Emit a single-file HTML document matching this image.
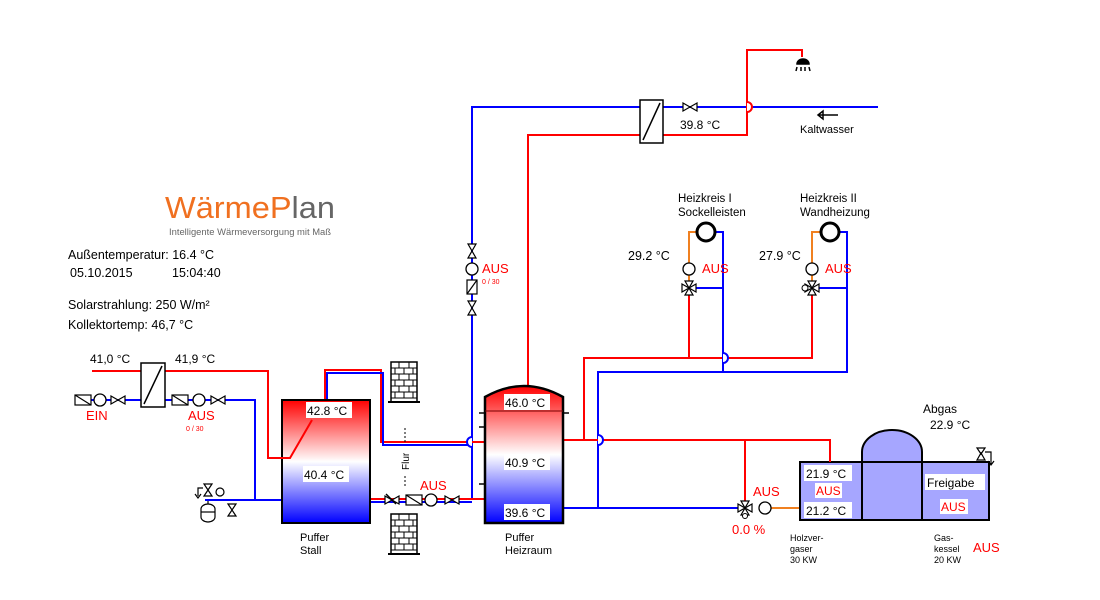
<!DOCTYPE html>
<html><head><meta charset="utf-8"><style>
html,body{margin:0;padding:0;background:#fff;width:1100px;height:600px;overflow:hidden}
svg{display:block}
text{font-family:"Liberation Sans",sans-serif}
</style></head><body>
<svg width="1100" height="600" viewBox="0 0 1100 600" xmlns="http://www.w3.org/2000/svg">
<defs>
<linearGradient id="tg" x1="0" y1="0" x2="0" y2="1">
<stop offset="0" stop-color="#f00"/><stop offset="0.5" stop-color="#fff"/><stop offset="1" stop-color="#00f"/>
</linearGradient>
<linearGradient id="tg2" x1="0" y1="0" x2="0" y2="1">
<stop offset="0" stop-color="#f00"/><stop offset="0.5" stop-color="#fff"/><stop offset="1" stop-color="#00f"/>
</linearGradient>
<g id="vh"><path d="M-7,-4 L7,4 L7,-4 L-7,4 Z" fill="#fff" stroke="#000" stroke-width="1.2"/></g>
<g id="vv"><path d="M-4,-7 L4,7 L-4,7 L4,-7 Z" fill="#fff" stroke="#000" stroke-width="1.2"/></g>
<g id="pump"><circle r="6" fill="#fff" stroke="#000" stroke-width="1.3"/></g>
<g id="chk"><rect x="-8" y="-5" width="16" height="10" fill="#fff" stroke="#000" stroke-width="1.2"/><line x1="-8" y1="-5" x2="8" y2="5" stroke="#000" stroke-width="1.2"/></g>
<g id="brick">
<rect x="0" y="0" width="26" height="40" fill="#fff" stroke="#000" stroke-width="1.5"/>
<path d="M0,6H26M0,12H26M0,18H26M0,24H26M0,30H26M0,36H26M8,0V6M18,0V6M4,6V12M13,6V12M22,6V12M8,12V18M18,12V18M4,18V24M13,18V24M22,18V24M8,24V30M18,24V30M4,30V36M13,30V36M22,30V36" stroke="#000" stroke-width="1" fill="none"/>
<line x1="-3" y1="40" x2="29" y2="40" stroke="#000" stroke-width="2"/>
</g>
</defs>

<!-- logo and info -->
<text x="165" y="218" font-size="31" fill="#f07020" textLength="170" lengthAdjust="spacingAndGlyphs" font-family="'DejaVu Sans',sans-serif">Wärme<tspan fill="#f07020">P</tspan><tspan fill="#666">lan</tspan></text>
<text x="169" y="235" font-size="9" fill="#666" textLength="162" lengthAdjust="spacingAndGlyphs" font-family="'DejaVu Sans',sans-serif">Intelligente Wärmeversorgung mit Maß</text>
<text x="68" y="259" font-size="12.5">Außentemperatur: 16.4 °C</text>
<text x="70" y="277" font-size="12.5">05.10.2015</text>
<text x="172" y="277" font-size="12.5">15:04:40</text>
<text x="68" y="309" font-size="12.5">Solarstrahlung: 250 W/m²</text>
<text x="68" y="329" font-size="12.5">Kollektortemp: 46,7 °C</text>

<g fill="none" stroke-width="2">
<path d="M472,500 V107 H878" stroke="#00f"/>
<path d="M528,385 V135 H640 M663,135 H747 V50 H802 V57" stroke="#f00"/>
<path d="M584,440 V358 H812 V290" stroke="#f00"/>
<path d="M689,358 V290" stroke="#f00"/>
<path d="M598,508 V372 H847 V232 H839" stroke="#00f"/>
<path d="M723,372 V232 H715" stroke="#00f"/>
<path d="M695,288 H723 M818,288 H847" stroke="#00f"/>
<path d="M689,282 V232 H697 M812,282 V232 H821" stroke="#f08020"/>
<path d="M563,440 H830 V462 M745,440 V505" stroke="#f00"/>
<path d="M563,508 H745" stroke="#00f"/>
<path d="M771,508 H800" stroke="#f08020"/>
<path d="M92,371 H141 M165,371 H268 V458 H290 L312,420" stroke="#f00"/>
<path d="M75,400 H141 M165,400 H255 V500 M205,500 H282" stroke="#00f"/>
<path d="M325,400 V370 H381 V442 H485" stroke="#f00"/>
<path d="M327,400 V373 H383 V445 H472" stroke="#00f"/>
<path d="M370,499 H485" stroke="#f00"/>
<path d="M370,502 H472" stroke="#00f"/>
</g>
<path d="M472,437 a5,5 0 0 0 0,10" fill="#fff" stroke="#00f" stroke-width="2"/>
<path d="M747,102 a5,5 0 0 1 0,10" fill="#fff" stroke="#f00" stroke-width="2"/>
<path d="M723,353 a5,5 0 0 1 0,10" fill="#fff" stroke="#00f" stroke-width="2"/>
<path d="M598,435 a5,5 0 0 1 0,10" fill="#fff" stroke="#00f" stroke-width="2"/>

<rect x="640" y="100" width="23" height="43" fill="#fff" stroke="#000" stroke-width="1.5"/>
<line x1="643" y1="140" x2="660" y2="103" stroke="#000" stroke-width="1.5"/>
<rect x="141" y="363" width="24" height="44" fill="#fff" stroke="#000" stroke-width="1.5"/>
<line x1="144" y1="404" x2="162" y2="366" stroke="#000" stroke-width="1.5"/>

<use href="#vh" x="690" y="107"/>
<text x="680" y="129" font-size="12">39.8 °C</text>
<path d="M797,64 a6,5 0 0 1 12,0 z M797,67 l-1,4 M801,67 l0,4 M805,67 l0,4 M809,67 l1,4" stroke="#000" stroke-width="1.5" fill="#000"/>
<path d="M818,115 H838 M818,115 l5,-4 v8 z" stroke="#000" stroke-width="1.5" fill="#fff"/>
<text x="800" y="133" font-size="11">Kaltwasser</text>

<text x="678" y="202" font-size="11.5">Heizkreis I</text>
<text x="678" y="216" font-size="11.5">Sockelleisten</text>
<text x="800" y="202" font-size="11.5">Heizkreis II</text>
<text x="800" y="216" font-size="11.5">Wandheizung</text>
<circle cx="706" cy="232" r="9" fill="#fff" stroke="#000" stroke-width="3"/>
<circle cx="830" cy="232" r="9" fill="#fff" stroke="#000" stroke-width="3"/>
<text x="628" y="260" font-size="12.5">29.2 °C</text>
<text x="759" y="260" font-size="12.5">27.9 °C</text>
<use href="#pump" x="689" y="269"/>
<use href="#pump" x="812" y="269"/>
<text x="702" y="273" font-size="13" fill="#f00">AUS</text>
<text x="825" y="273" font-size="13" fill="#f00">AUS</text>
<use href="#vv" x="689" y="288"/><use href="#vh" x="689" y="288"/>
<use href="#vv" x="812" y="288"/><use href="#vh" x="812" y="288"/>
<circle cx="805" cy="288" r="3" fill="#fff" stroke="#000"/>

<use href="#vv" x="472" y="251"/>
<use href="#pump" x="472" y="269"/>
<text x="482" y="273" font-size="13" fill="#f00">AUS</text>
<text x="482" y="284" font-size="7" fill="#f00">0 / 30</text>
<rect x="467" y="280" width="10" height="14" fill="#fff" stroke="#000" stroke-width="1.2"/>
<line x1="467" y1="294" x2="477" y2="280" stroke="#000" stroke-width="1.2"/>
<use href="#vv" x="472" y="308"/>

<use href="#chk" x="83" y="400"/><use href="#pump" x="100" y="400"/><use href="#vh" x="118" y="400"/>
<text x="86" y="420" font-size="13" fill="#f00">EIN</text>
<use href="#chk" x="180" y="400"/><use href="#pump" x="199" y="400"/><use href="#vh" x="218" y="400"/>
<text x="188" y="420" font-size="13" fill="#f00">AUS</text>
<text x="186" y="431" font-size="7" fill="#f00">0 / 30</text>
<text x="90" y="363" font-size="12">41,0 °C</text>
<text x="175" y="363" font-size="12">41,9 °C</text>
<g stroke="#000" stroke-width="1.2" fill="#fff">
<path d="M201,509 a7,5 0 0 1 14,0 v8 a7,5 0 0 1 -14,0 z"/>
<line x1="201" y1="512" x2="215" y2="512"/>
<line x1="208" y1="500" x2="208" y2="504"/>
<path d="M204,496 l8,0 l-4,-6 z M204,484 l8,0 l-4,6 z"/>
<circle cx="220" cy="492" r="4"/>
<path d="M203,488 h-5 v8 M195,494 l3,4 l3,-4" fill="none"/>
<path d="M228,504 l8,12 h-8 l8,-12 z"/>
</g>
<line x1="205" y1="500" x2="232" y2="500" stroke="#00f" stroke-width="2"/>

<rect x="282" y="400" width="88" height="123" fill="url(#tg)" stroke="#000" stroke-width="2"/>
<path d="M268,458 H290 L312,420" fill="none" stroke="#f00" stroke-width="2"/>
<rect x="306" y="402" width="46" height="16" fill="#fff"/>
<text x="307" y="415" font-size="12">42.8 °C</text>
<rect x="303" y="466" width="46" height="16" fill="#fff"/>
<text x="304" y="479" font-size="12">40.4 °C</text>
<text x="300" y="541" font-size="11">Puffer</text>
<text x="300" y="554" font-size="11">Stall</text>

<use href="#brick" x="391" y="362"/>
<use href="#brick" x="391" y="514"/>
<path d="M405,428 V442 M405,476 V488" stroke="#000" stroke-dasharray="2,2"/>
<text x="0" y="0" font-size="10" transform="translate(409,470) rotate(-90)">Flur</text>
<use href="#vh" x="392" y="500"/><line x1="386" y1="494" x2="396" y2="504" stroke="#000" stroke-width="1.5"/>
<use href="#chk" x="414" y="500"/><use href="#pump" x="431" y="500"/><use href="#vh" x="452" y="500"/>
<text x="420" y="490" font-size="13" fill="#f00">AUS</text>

<path d="M485,523 V397 Q524,375 563,397 V523 Z" fill="url(#tg2)" stroke="#000" stroke-width="2.5"/>
<line x1="485" y1="411" x2="563" y2="411" stroke="#700" stroke-width="1"/>
<path d="M479,413h6 M479,427h6 M479,484h6 M563,413h6" stroke="#000" stroke-width="1.5"/>
<rect x="504" y="394" width="46" height="16" fill="#fff"/>
<text x="505" y="407" font-size="12">46.0 °C</text>
<rect x="504" y="454" width="46" height="16" fill="#fff"/>
<text x="505" y="467" font-size="12">40.9 °C</text>
<rect x="504" y="504" width="46" height="16" fill="#fff"/>
<text x="505" y="517" font-size="12">39.6 °C</text>
<text x="505" y="541" font-size="11">Puffer</text>
<text x="505" y="554" font-size="11">Heizraum</text>

<use href="#vv" x="745" y="508"/><use href="#vh" x="745" y="508"/>
<circle cx="745" cy="516" r="2.5" fill="#fff" stroke="#000"/>
<use href="#pump" x="765" y="508"/>
<text x="753" y="496" font-size="13" fill="#f00">AUS</text>
<text x="732" y="534" font-size="13" fill="#f00">0.0 %</text>

<path d="M862,462 V452 a30,22 0 0 1 60,0 V462 Z" fill="#a6a6ff" stroke="#000" stroke-width="2"/>
<rect x="800" y="462" width="189" height="58" fill="#a6a6ff" stroke="#000" stroke-width="2"/>
<path d="M862,462V520M922,462V520" stroke="#000" stroke-width="2"/>
<line x1="830" y1="440" x2="830" y2="462" stroke="#f00" stroke-width="2"/>
<rect x="804" y="465" width="48" height="16" fill="#fff"/>
<text x="806" y="478" font-size="12">21.9 °C</text>
<rect x="815" y="483" width="27" height="15" fill="#fff"/>
<text x="816" y="495" font-size="12" fill="#f00">AUS</text>
<rect x="804" y="502" width="48" height="16" fill="#fff"/>
<text x="806" y="515" font-size="12">21.2 °C</text>
<rect x="925" y="474" width="60" height="16" fill="#fff"/>
<text x="927" y="487" font-size="12">Freigabe</text>
<rect x="940" y="499" width="28" height="15" fill="#fff"/>
<text x="941" y="511" font-size="12" fill="#f00">AUS</text>
<text x="923" y="413" font-size="12">Abgas</text>
<text x="930" y="429" font-size="12">22.9 °C</text>
<g stroke="#000" stroke-width="1.2" fill="#fff">
<path d="M977,460 h8 l-4,-7 z M977,448 h8 l-4,6 z"/>
<path d="M985,452 h6 v12 M988,461 l3,4 l3,-4" fill="none"/>
</g>
<text x="790" y="541" font-size="9">Holzver-</text>
<text x="790" y="552" font-size="9">gaser</text>
<text x="790" y="563" font-size="9">30 KW</text>
<text x="934" y="541" font-size="9">Gas-</text>
<text x="934" y="552" font-size="9">kessel</text>
<text x="934" y="563" font-size="9">20 KW</text>
<text x="973" y="552" font-size="13" fill="#f00">AUS</text>
</svg>
</body></html>
